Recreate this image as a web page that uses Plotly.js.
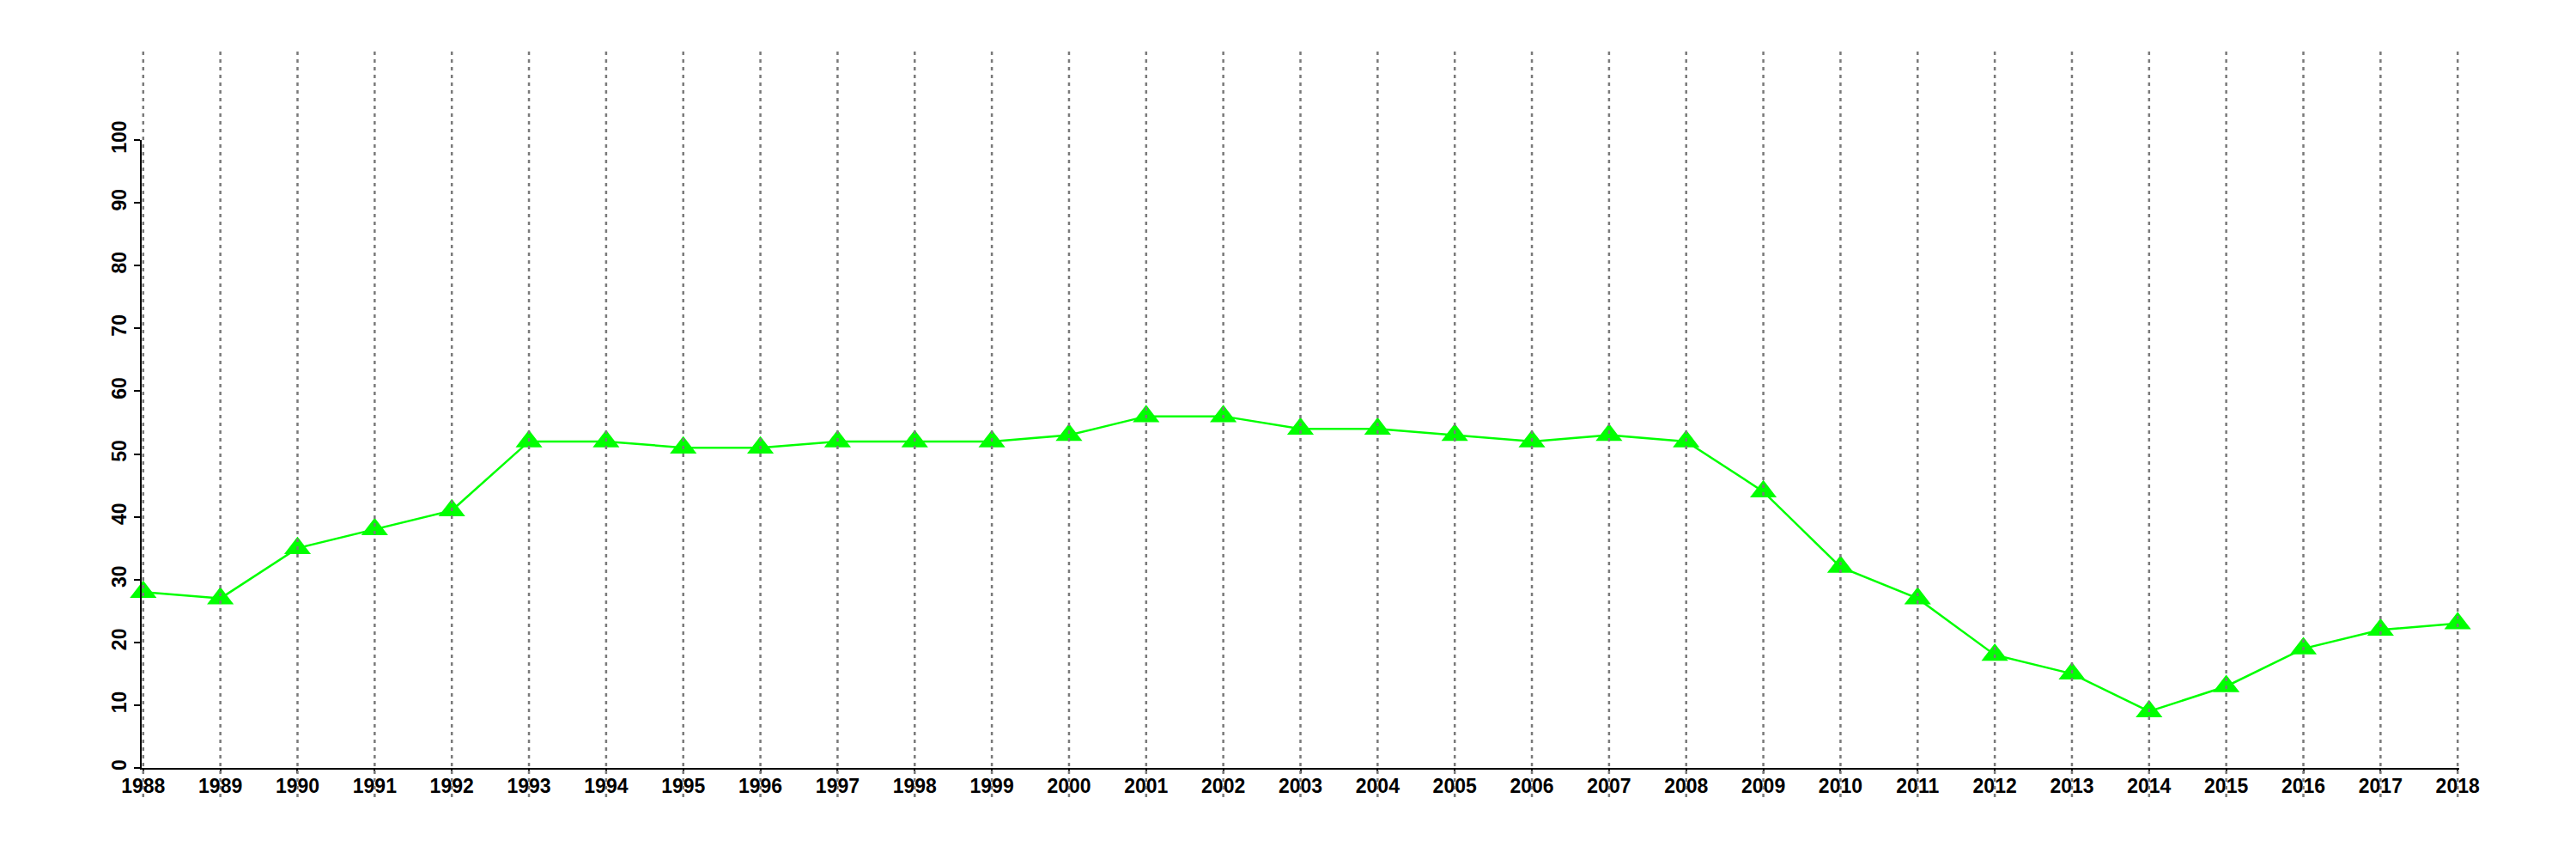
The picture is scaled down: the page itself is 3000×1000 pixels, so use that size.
<!DOCTYPE html>
<html>
<head>
<meta charset="utf-8">
<script src="https://cdn.plot.ly/plotly-3.0.1.min.js"></script>
<style>html,body{margin:0;padding:0;background:#fff;}</style>
</head>
<body>
<div id="chart" style="width:3000px;height:1000px;"></div>
<script>
const years = [1988,1989,1990,1991,1992,1993,1994,1995,1996,1997,1998,1999,2000,2001,2002,2003,2004,2005,2006,2007,2008,2009,2010,2011,2012,2013,2014,2015,2016,2017,2018];
const values = [28,27,35,38,41,52,52,51,51,52,52,52,53,56,56,54,54,53,52,53,52,44,32,27,18,15,9,13,19,22,23];
const yTicks = [0,10,20,30,40,50,60,70,80,90,100];

const gridShapes = years.map(function(yr){
  return {
    type: 'line', xref: 'x', yref: 'paper',
    x0: yr, x1: yr, y0: -0.0465, y1: 1.141,
    layer: 'above',
    line: {color: '#7a7a7a', width: 2.5, dash: '4px,5px'}
  };
});

const trace = {
  x: years, y: values,
  type: 'scatter', mode: 'lines+markers',
  line: {color: '#00ff00', width: 2.5},
  marker: {symbol: 'triangle-up', size: 27, color: '#00ff00'},
  cliponaxis: false,
  showlegend: false
};

const tickFont = {family: 'Liberation Sans, Arial, sans-serif', size: 23, color: '#000', weight: 'bold'};

const layout = {
  width: 3000, height: 1000,
  margin: {l: 165, r: 136, t: 163, b: 106},
  paper_bgcolor: '#fff',
  plot_bgcolor: 'rgba(0,0,0,0)',
  showlegend: false,
  font: {family: 'Liberation Sans, Arial, sans-serif', size: 23, color: '#000'},
  xaxis: {
    range: [1987.98, 2018.02],
    tickmode: 'array', tickvals: years, ticktext: years.map(String),
    showgrid: false, zeroline: false,
    showline: true, linecolor: '#000', linewidth: 2,
    ticks: 'outside', ticklen: 4, tickwidth: 2, tickcolor: '#000',
    ticklabelstandoff: -5,
    tickfont: tickFont,
    tickangle: 0
  },
  yaxis: {
    range: [0, 100],
    tickmode: 'array', tickvals: yTicks, ticktext: yTicks.map(String),
    showgrid: false, zeroline: false,
    showline: true, linecolor: '#000', linewidth: 2,
    ticks: 'outside', ticklen: 7, tickwidth: 2, tickcolor: '#000',
    tickfont: tickFont,
    tickangle: -90
  },
  shapes: gridShapes
};

Plotly.newPlot('chart', [trace], layout, {displayModeBar: false, staticPlot: true});
</script>
</body>
</html>
